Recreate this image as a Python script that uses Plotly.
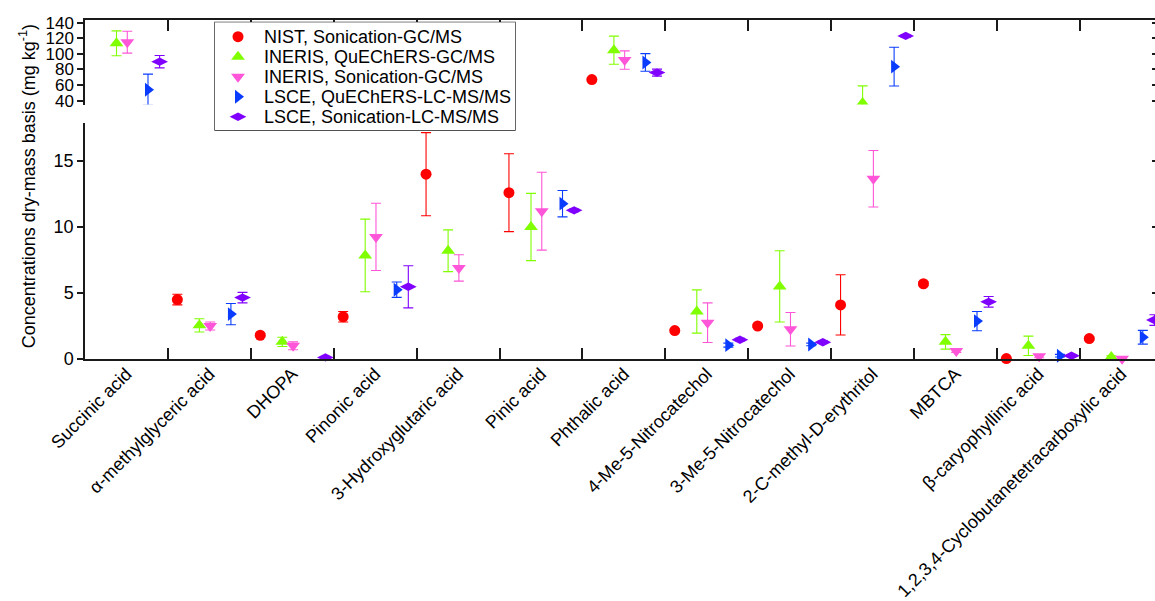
import plotly.graph_objects as go

# ---- data -------------------------------------------------------------
compounds = [
    "Succinic acid",
    "α-methylglyceric acid",
    "DHOPA",
    "Pinonic acid",
    "3-Hydroxyglutaric acid",
    "Pinic acid",
    "Phthalic acid",
    "4-Me-5-Nitrocatechol",
    "3-Me-5-Nitrocatechol",
    "2-C-methyl-D-erythritol",
    "MBTCA",
    "β-caryophyllinic acid",
    "1,2,3,4-Cyclobutanetetracarboxylic acid",
]

series_names = [
    "NIST, Sonication-GC/MS",
    "INERIS, QuEChERS-GC/MS",
    "INERIS, Sonication-GC/MS",
    "LSCE, QuEChERS-LC-MS/MS",
    "LSCE, Sonication-LC-MS/MS",
]

nist_sonic = [None, 4.5, 1.8, 3.2, 14.0, 12.6, 67.0, 2.15, 2.5, 4.1, 5.7, 0.03, 1.55]
nist_sonic_err = [None, 0.4, 0.12, 0.4, 3.15, 2.95, 1.5, 0.1, 0.1, 2.28, 0.15, 0.05, 0.1]

ineris_quech = [113.5, 2.55, 1.3, 7.85, 8.2, 10.0, 104.7, 3.6, 5.5, 37.0, 1.3, 1.0, 0.15]
ineris_quech_err = [16.0, 0.5, 0.35, 2.75, 1.58, 2.55, 18.0, 1.64, 2.7, 22.0, 0.55, 0.73, 0.1]

ineris_sonic = [115.0, 2.5, 1.0, 9.25, 6.9, 11.2, 92.0, 2.75, 2.25, 13.65, 0.6, 0.2, 0.02]
ineris_sonic_err = [14.0, 0.3, 0.3, 2.55, 1.0, 2.95, 11.8, 1.5, 1.27, 2.14, 0.1, 0.1, 0.05]

lsce_quech = [54.0, 3.4, None, 5.25, None, 11.77, 89.0, 1.05, 1.1, 83.6, 2.87, 0.25, 1.65]
lsce_quech_err = [20.0, 0.8, None, 0.58, None, 1.0, 11.3, 0.15, 0.1, 24.8, 0.73, 0.1, 0.52]

lsce_sonic = [90.0, 4.65, 0.12, 5.47, None, 11.26, 76.0, 1.46, 1.27, 123.0, 4.33, 0.25, 2.95]
lsce_sonic_err = [8.0, 0.4, 0.05, 1.6, None, 0.1, 4.5, 0.1, 0.1, 1.5, 0.4, 0.05, 0.4]

low_ticks = [0, 5, 10, 15]
high_ticks = [40, 60, 80, 100, 120, 140]

# ---- styling ------------------------------------------------------------
values = [nist_sonic, ineris_quech, ineris_sonic, lsce_quech, lsce_sonic]
errors = [nist_sonic_err, ineris_quech_err, ineris_sonic_err, lsce_quech_err, lsce_sonic_err]
colors = ["#FF0000", "#80FF00", "#FF55D8", "#0A3CFF", "#8000FF"]
symbols = ["circle", "triangle-up", "triangle-down", "triangle-right", "diamond-wide"]
sizes = [11, 12, 12, 12, 12]
offsets = [-0.386, -0.12, 0.01, 0.26, 0.40]

FONT = "Liberation Sans, Arial, sans-serif"
AXIS_COLOR = "#1a1a1a"
LOW_RANGE = [0, 17.9]
HIGH_RANGE = [35.1, 143.4]
X_RANGE = [-0.5, 12.407]
LOW_DOMAIN = [0, 0.697]
HIGH_DOMAIN = [0.7507, 1]
centers = list(range(len(compounds)))
boundaries = [i + 0.5 for i in range(len(compounds) - 1)]

fig = go.Figure()

# data: values up to the lower panel's ceiling go below the break, the rest above
for name, vals, errs, color, sym, size, off in zip(
    series_names, values, errors, colors, symbols, sizes, offsets
):
    xs = [i + off for i in centers]
    low = [v if v is not None and v <= LOW_RANGE[1] else None for v in vals]
    high = [v if v is not None and v > LOW_RANGE[1] else None for v in vals]
    for ys, xa, ya, clip in ((low, "x", "y", False), (high, "x2", "y2", True)):
        fig.add_trace(
            go.Scatter(
                x=xs,
                y=ys,
                name=name,
                mode="markers",
                xaxis=xa,
                yaxis=ya,
                cliponaxis=clip,
                showlegend=False,
                marker=dict(symbol=sym, size=size, color=color, opacity=1,
                            line=dict(width=0)),
                error_y=dict(
                    type="data",
                    array=errs,
                    color=color,
                    thickness=1.1,
                    width=5,
                ),
            )
        )

# empty carriers so the overlay axes (compound names, right-hand ticks) get drawn
for xa, ya in (("x4", "y"), ("x", "y3"), ("x2", "y4")):
    fig.add_trace(
        go.Scatter(
            x=centers,
            y=[None] * len(centers),
            mode="markers",
            xaxis=xa,
            yaxis=ya,
            showlegend=False,
            hoverinfo="skip",
        )
    )

# legend box drawn on its own hidden axes (pixel-like units)
LEG_W, LEG_H = 300, 107.7
leg_rows = [14.4 + 20 * i for i in range(len(series_names))]
fig.add_trace(
    go.Scatter(
        x=[23] * len(series_names),
        y=leg_rows,
        mode="markers",
        xaxis="x3",
        yaxis="y5",
        showlegend=False,
        hoverinfo="skip",
        marker=dict(symbol=symbols, size=sizes, color=colors, opacity=1,
                    line=dict(width=0)),
    )
)

annotations = [
    dict(
        text=name,
        x=47,
        y=yy,
        xref="x3",
        yref="y5",
        xanchor="left",
        yanchor="middle",
        showarrow=False,
        font=dict(family=FONT, size=18, color="black"),
    )
    for name, yy in zip(series_names, leg_rows)
]
annotations.append(
    dict(
        text="Concentrations dry-mass basis (mg kg<sup>-1</sup>)",
        x=-0.054,
        y=0.51,
        xref="paper",
        yref="paper",
        textangle=-90,
        xanchor="center",
        yanchor="middle",
        showarrow=False,
        font=dict(family=FONT, size=18, color="black"),
    )
)

leg_dom_x = [0.1215, 0.4019]
leg_dom_y = [0.6755, 0.9932]

# frame axes: ticks sit on the boundaries between compound groups
frame_x = dict(
    range=X_RANGE,
    tickmode="array",
    tickvals=boundaries,
    ticks="inside",
    ticklen=11,
    tickwidth=1.5,
    tickcolor=AXIS_COLOR,
    showticklabels=False,
    showline=True,
    linecolor=AXIS_COLOR,
    linewidth=1.5,
    showgrid=False,
    zeroline=False,
)

common_y = dict(
    ticks="outside",
    ticklen=6,
    tickwidth=1.5,
    tickcolor=AXIS_COLOR,
    showline=True,
    linecolor=AXIS_COLOR,
    linewidth=1.5,
    showgrid=False,
    zeroline=False,
    tickmode="array",
)

right_y = dict(
    side="right",
    ticks="inside",
    ticklen=3,
    tickwidth=1.5,
    tickcolor=AXIS_COLOR,
    showticklabels=False,
    showline=False,
    showgrid=False,
    zeroline=False,
    tickmode="array",
)

fig.update_layout(
    width=1155,
    height=601,
    margin=dict(l=85, r=0, t=20, b=242),
    paper_bgcolor="white",
    plot_bgcolor="white",
    font=dict(family=FONT, size=18, color="black"),
    showlegend=False,
    hovermode=False,
    xaxis=dict(domain=[0, 1], anchor="y", **frame_x),
    xaxis2=dict(domain=[0, 1], anchor="y2", side="top", **frame_x),
    # compound names, centred under each group
    xaxis4=dict(
        overlaying="x",
        anchor="y",
        side="bottom",
        range=X_RANGE,
        tickmode="array",
        tickvals=centers,
        ticktext=compounds,
        tickangle=-45,
        ticks="",
        showline=False,
        showgrid=False,
        zeroline=False,
        tickfont=dict(family=FONT, size=18, color="black"),
    ),
    yaxis=dict(domain=LOW_DOMAIN, anchor="x", range=LOW_RANGE, tickvals=low_ticks,
               tickfont=dict(family=FONT, size=18, color="black"), **common_y),
    yaxis2=dict(domain=HIGH_DOMAIN, anchor="x2", range=HIGH_RANGE, tickvals=high_ticks,
                tickfont=dict(family=FONT, size=17, color="black"), **common_y),
    yaxis3=dict(overlaying="y", anchor="x", range=LOW_RANGE,
                tickvals=low_ticks[1:], **right_y),
    yaxis4=dict(overlaying="y2", anchor="x2", range=HIGH_RANGE,
                tickvals=high_ticks, **right_y),
    xaxis3=dict(domain=leg_dom_x, anchor="y5", range=[0, LEG_W], visible=False),
    yaxis5=dict(domain=leg_dom_y, anchor="x3", range=[LEG_H, 0], visible=False),
    shapes=[
        dict(
            type="rect",
            xref="paper",
            yref="paper",
            x0=leg_dom_x[0],
            x1=leg_dom_x[1],
            y0=leg_dom_y[0],
            y1=leg_dom_y[1],
            line=dict(color=AXIS_COLOR, width=1.3),
            fillcolor="white",
            layer="below",
        )
    ],
    annotations=annotations,
)

fig.write_html("out.html")
